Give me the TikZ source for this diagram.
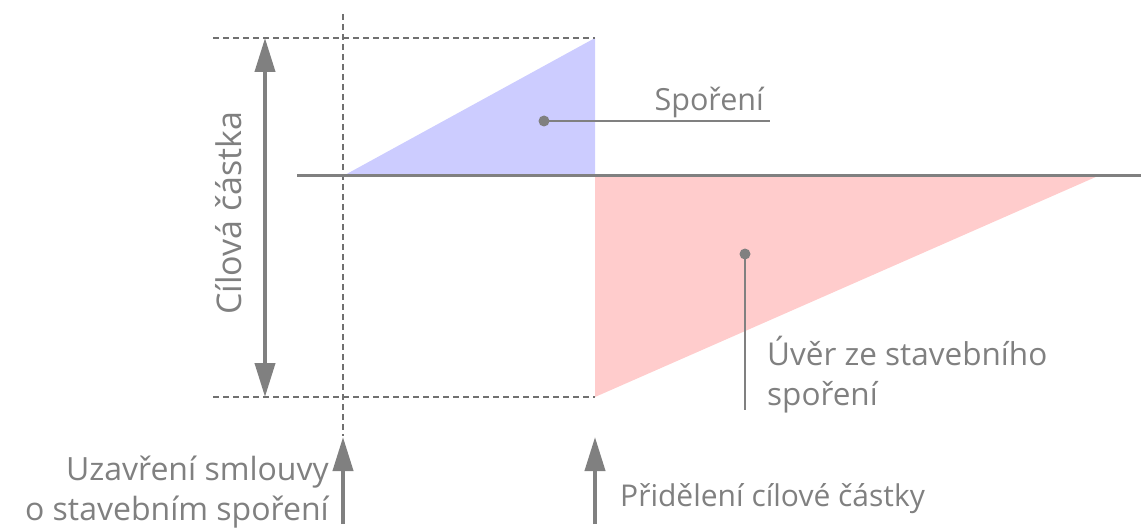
\documentclass[tikz,border=0pt]{standalone}
\usepackage{fontspec}
\setmainfont{Open Sans}
\usetikzlibrary{arrows.meta}
\definecolor{tgray}{HTML}{808080}
\definecolor{lgray}{HTML}{707070}
\definecolor{sblue}{HTML}{CCCCFF}
\definecolor{sred}{HTML}{FFCCCC}
\tikzset{
  guide/.style={draw=lgray, line width=1.3pt, dash pattern=on 6pt off 4pt},
  bigarrow/.style={draw=tgray, line width=4pt, -{Triangle[length=34pt,width=20pt]}},
  lbl/.style={text=tgray, font=\fontsize{30.5}{40}\selectfont, inner sep=0pt},
  leader/.style={draw=tgray, line width=1.6pt},
  dotc/.style={fill=tgray, draw=none}
}
\begin{document}
\begin{tikzpicture}[x=1pt,y=-1pt]
\useasboundingbox (0,0) rectangle (1141,532);
% key coordinates
\coordinate (O) at (343,176);
\coordinate (T) at (595,38);
\coordinate (M) at (595,176);
\coordinate (B) at (595,397);
\coordinate (R) at (1098,176);
% fills
\fill[sblue] (O) -- (T) -- (M) -- cycle;
\fill[sred] (M) -- (R) -- (B) -- cycle;
% guides
\coordinate (vtop) at (343,14);
\coordinate (vbot) at (343,436);
\draw[guide] (vtop) -- (vbot);
\coordinate (tl) at (213,38);
\coordinate (bl) at (213,397);
\draw[guide] (tl) -- (T);
\draw[guide] (bl) -- (B);
% axis
\coordinate (axl) at (297,176);
\coordinate (axr) at (1141,176);
\draw[draw=tgray, line width=3pt] (axl) -- (axr);
% double arrow
\coordinate (da1) at (265,38);
\coordinate (da2) at (265,397);
\draw[draw=tgray, line width=4pt, {Triangle[length=34pt,width=20pt]}-{Triangle[length=34pt,width=20pt]}] (da1) -- (da2);
\node[lbl, rotate=90, font=\fontsize{34}{40}\selectfont] (cil) at (229,213) {Cílová částka};
% Sporeni leader
\coordinate (sd) at (544,121);
\coordinate (se) at (770,121);
\fill[dotc] (sd) circle (5.5pt);
\draw[leader] (sd) -- (se);
\node[lbl, anchor=base east] (spo) at (764,111) {Spoření};
% Uver leader
\coordinate (ud) at (745,254);
\coordinate (ue) at (745,410);
\fill[dotc] (ud) circle (5.5pt);
\draw[leader] (ud) -- (ue);
\node[lbl, anchor=base west, font=\fontsize{31.5}{40}\selectfont] (uver1) at (767,365) {Úvěr ze stavebního};
\node[lbl, anchor=base west, font=\fontsize{31.5}{40}\selectfont] (uver2) at (767,405) {spoření};
% bottom arrows
\coordinate (a1s) at (343,524);
\coordinate (a1e) at (343,437);
\draw[bigarrow] (a1s) -- (a1e);
\coordinate (a2s) at (595,524);
\coordinate (a2e) at (595,437);
\draw[bigarrow] (a2s) -- (a2e);
\node[lbl, anchor=base east, font=\fontsize{32}{40}\selectfont] (uzav1) at (329,480) {Uzavření smlouvy};
\node[lbl, anchor=base east, font=\fontsize{32}{40}\selectfont] (uzav2) at (329,520) {o stavebním spoření};
\node[lbl, anchor=base west, font=\fontsize{30}{40}\selectfont] (prid) at (620,506) {Přidělení cílové částky};
\end{tikzpicture}
\end{document}
